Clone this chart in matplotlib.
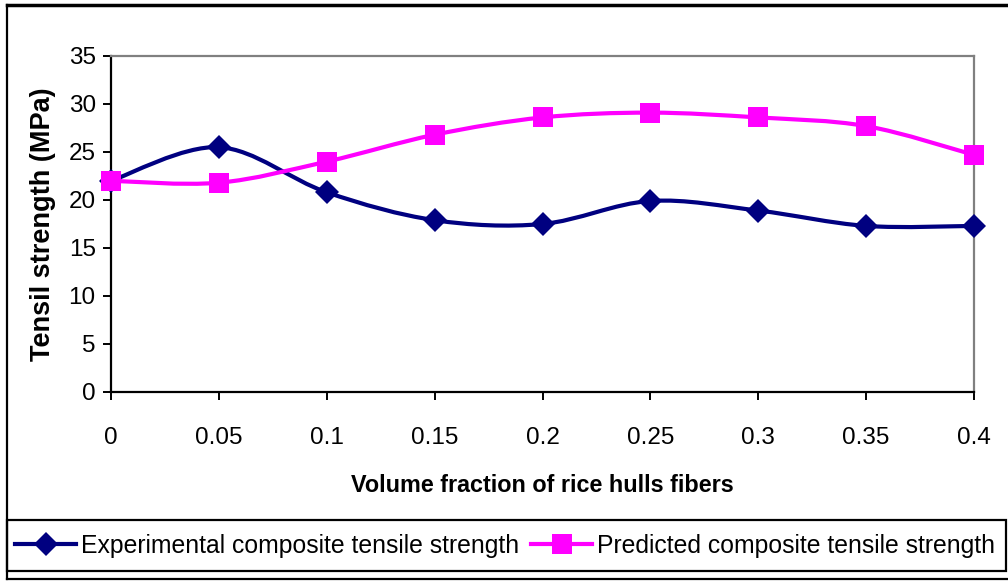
import matplotlib
matplotlib.use("Agg")
import matplotlib.pyplot as plt
from matplotlib.path import Path
from matplotlib.patches import PathPatch, Rectangle
from matplotlib.lines import Line2D

plt.rcParams["font.family"] = ["Liberation Sans", "DejaVu Sans"]

# --- data ---
volume_fraction = [0, 0.05, 0.1, 0.15, 0.2, 0.25, 0.3, 0.35, 0.4]
experimental = [22.0, 25.5, 20.8, 17.9, 17.5, 19.9, 18.9, 17.3, 17.3]
predicted = [22.0, 21.8, 24.0, 26.8, 28.6, 29.1, 28.6, 27.7, 24.7]

x_ticks = [0, 0.05, 0.1, 0.15, 0.2, 0.25, 0.3, 0.35, 0.4]
x_tick_labels = ["0", "0.05", "0.1", "0.15", "0.2", "0.25", "0.3", "0.35", "0.4"]
y_ticks = [0, 5, 10, 15, 20, 25, 30, 35]

NAVY = "#000080"
MAGENTA = "#FF00FF"


def smooth_path(xs, ys):
    # Excel-like smoothed line: Catmull-Rom segments as cubic Beziers
    pts = list(zip(xs, ys))
    verts = [pts[0]]
    codes = [Path.MOVETO]
    n = len(pts)
    for i in range(n - 1):
        p0 = pts[i - 1] if i > 0 else pts[i]
        p1 = pts[i]
        p2 = pts[i + 1]
        p3 = pts[i + 2] if i + 2 < n else pts[i + 1]
        c1 = (p1[0] + (p2[0] - p0[0]) / 6, p1[1] + (p2[1] - p0[1]) / 6)
        c2 = (p2[0] - (p3[0] - p1[0]) / 6, p2[1] - (p3[1] - p1[1]) / 6)
        verts += [c1, c2, p2]
        codes += [Path.CURVE4] * 3
    return Path(verts, codes)


fig = plt.figure(figsize=(10.08, 5.81), dpi=100)
ax = fig.add_axes([111 / 1008, 1 - 392 / 581, (974 - 111) / 1008, (392 - 56) / 581])

ax.add_patch(PathPatch(smooth_path(volume_fraction, experimental), fill=False,
                       edgecolor=NAVY, lw=3, capstyle="round", joinstyle="round", zorder=3))
ax.plot(volume_fraction, experimental, ls="none", marker="D", ms=12.5,
        color=NAVY, mec=NAVY, mew=0, zorder=4, clip_on=False)

ax.add_patch(PathPatch(smooth_path(volume_fraction, predicted), fill=False,
                       edgecolor=MAGENTA, lw=3, capstyle="round", joinstyle="round", zorder=5))
ax.plot(volume_fraction, predicted, ls="none", marker="s", ms=15,
        color=MAGENTA, mec=MAGENTA, mew=0, zorder=6, clip_on=False)

ax.set_xlim(0, 0.4)
ax.set_ylim(0, 35)
ax.set_xticks(x_ticks)
ax.set_xticklabels(x_tick_labels)
ax.set_yticks(y_ticks)

for side in ["left", "bottom"]:
    ax.spines[side].set_color("black")
    ax.spines[side].set_linewidth(1.6)
for side in ["top", "right"]:
    ax.spines[side].set_color("#808080")
    ax.spines[side].set_linewidth(1.6)

ax.tick_params(axis="both", direction="out", length=6, width=1.4, labelsize=17.5, colors="black")
ax.tick_params(axis="x", pad=19)
ax.tick_params(axis="y", pad=5)

ax.set_xlabel("Volume fraction of rice hulls fibers", fontsize=16.8, fontweight="bold", labelpad=18)
ax.set_ylabel("Tensil strength (MPa)", fontsize=19.5, fontweight="bold", labelpad=9)

# outer chart frame
frame_kw = dict(transform=fig.transFigure, color="black", clip_on=False)
fig.add_artist(Line2D([7 / 1008, 1.0], [1 - 5 / 581, 1 - 5 / 581], lw=2.5, **frame_kw))
fig.add_artist(Line2D([7 / 1008, 7 / 1008], [1 - 5 / 581, 1 - 579 / 581], lw=1.6, **frame_kw))
fig.add_artist(Line2D([7 / 1008, 1.0], [1 - 579 / 581, 1 - 579 / 581], lw=1.6, **frame_kw))

# legend box
fig.add_artist(Rectangle((7 / 1008, 1 - 571 / 581), (1006 - 7) / 1008, (571 - 520) / 581,
                         transform=fig.transFigure, fill=False, edgecolor="black", lw=1.6))
handles = [
    Line2D([], [], color=NAVY, lw=3, marker="D", ms=12.5, mew=0),
    Line2D([], [], color=MAGENTA, lw=3, marker="s", ms=15, mew=0),
]
labels = ["Experimental composite tensile strength", "Predicted composite tensile strength"]
fig.legend(handles, labels, loc="center", bbox_to_anchor=(505 / 1008, 1 - 546 / 581),
           ncol=2, frameon=False, fontsize=17.8, handlelength=2.45, handletextpad=0.2,
           columnspacing=0.5, borderpad=0)

fig.savefig("out.png", dpi=100)
